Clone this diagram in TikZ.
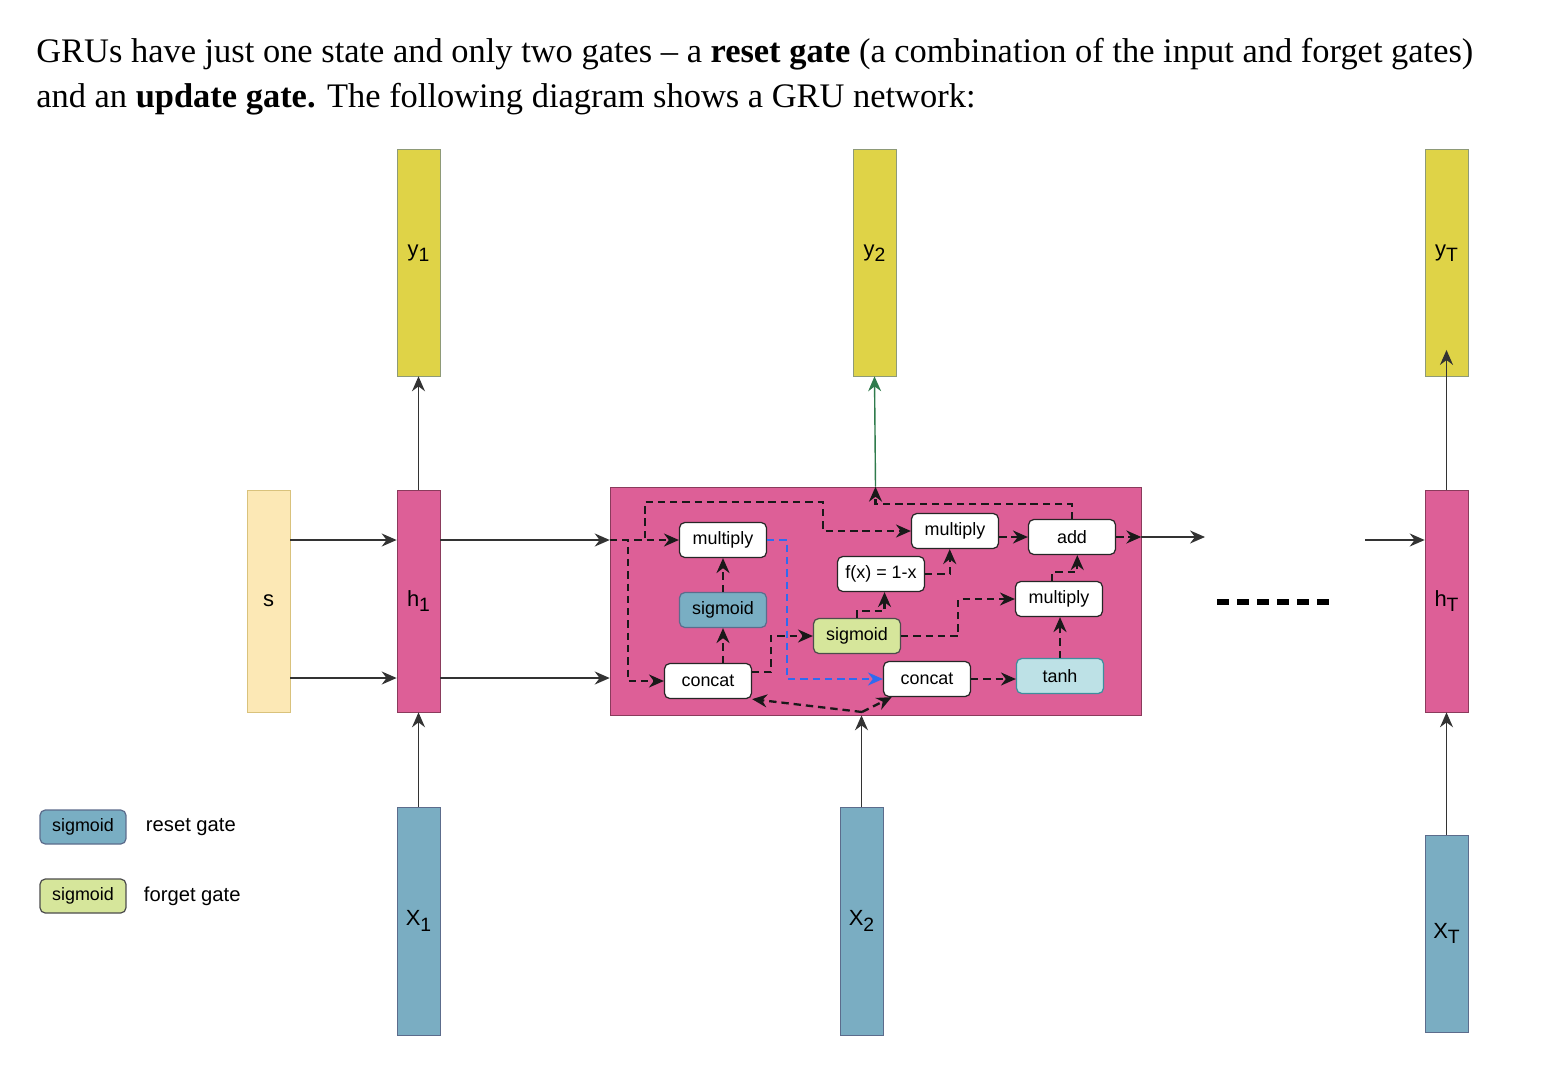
\documentclass[tikz,border=0pt]{standalone}
\usepackage{fontspec}
\setmainfont{Liberation Sans}
\newfontfamily\headfont[Ligatures=TeX]{Liberation Serif}
\usetikzlibrary{arrows.meta,positioning}

\definecolor{cellpink}{HTML}{DD5F97}
\definecolor{cellline}{HTML}{8A3B5C}
\definecolor{outyellow}{HTML}{DFD347}
\definecolor{outline}{HTML}{8E9A78}
\definecolor{inblue}{HTML}{7AADC2}
\definecolor{inline}{HTML}{5C6C8C}
\definecolor{stateyellow}{HTML}{FCE8B5}
\definecolor{stateline}{HTML}{D9C27C}
\definecolor{resetfill}{HTML}{79AEC3}
\definecolor{forgetfill}{HTML}{D6E69B}
\definecolor{tanhfill}{HTML}{BDE1E6}
\definecolor{tanhline}{HTML}{3E8E9E}
\definecolor{skipblue}{HTML}{2F6BF0}
\definecolor{outgreen}{HTML}{2F7B4C}
\definecolor{linegray}{HTML}{333333}

% lowered index, as in h1 or yT
\newcommand{\lowidx}[1]{\raisebox{-0.45ex}{\fontsize{11}{12}\selectfont #1}}

\tikzset{
    tallbox/.style={draw, rectangle, minimum width=0.86cm, minimum height=4.44cm,
        inner sep=0pt, font=\fontsize{12.5}{14}\selectfont},
    hbox/.style={tallbox, fill=cellpink, draw=cellline},
    ybox/.style={tallbox, fill=outyellow, draw=outline, minimum height=4.54cm},
    xbox/.style={tallbox, fill=inblue, draw=inline, minimum height=4.56cm},
    opbox/.style={draw=black!85, fill=white, rounded corners=3pt, line width=0.7pt,
        minimum width=1.74cm, minimum height=0.7cm, inner sep=0pt,
        font=\fontsize{10.2}{12}\selectfont},
    resetbox/.style={opbox, fill=resetfill, draw=inline},
    forgetbox/.style={opbox, fill=forgetfill, draw=black!70},
    tanhbox/.style={opbox, fill=tanhfill, draw=tanhline},
    arr/.style={draw=linegray, line width=0.8pt, -{Stealth[length=8.5pt,width=7.4pt]}},
    dsh/.style={draw=black!90, line width=1.3pt, dash pattern=on 4.2pt off 2.8pt,
        -{Stealth[length=8.5pt,width=7.4pt]}},
    legtext/.style={font=\fontsize{11.5}{13}\selectfont, inner sep=0pt}
}

\begin{document}
\begin{tikzpicture}[x=0.02cm,y=-0.02cm]

    \useasboundingbox (0,0) rectangle (1568,1082);

    % text above the diagram
    \node[anchor=base west, inner sep=0pt, font=\headfont\fontsize{19.6}{24}\selectfont]
        (lineA) at (36,62) {GRUs have just one state and only two gates – a \textbf{reset gate} (a combination of the input and forget gates)};
    \node[anchor=base west, inner sep=0pt, font=\headfont\fontsize{19.6}{24}\selectfont]
        (lineB) at (36,107) {and an \textbf{update gate.} The following diagram shows a GRU network:};

    % columns
    \node[tallbox, fill=stateyellow, draw=stateline] (s) at (268.5,601) {s};
    \node[hbox] (h1) at (418.5,601) {h\lowidx{1}};
    \node[ybox] (y1) at (418.5,262.5) {\raisebox{13.6pt}{y\lowidx{1}}};
    \node[xbox] (X1) at (418.5,921) {X\lowidx{1}};

    \node[ybox] (y2) at (874.5,262.5) {\raisebox{13.6pt}{y\lowidx{2}}};
    \node[xbox] (X2) at (861.5,921) {X\lowidx{2}};

    \node[ybox] (yT) at (1446.5,262.5) {\raisebox{13.6pt}{y\lowidx{T}}};
    \node[hbox] (hT) at (1446.5,601) {h\lowidx{T}};
    \node[xbox, minimum height=3.94cm] (XT) at (1446.5,933.5) {X\lowidx{T}};

    % the GRU cell
    \node[draw=cellline, fill=cellpink, minimum width=10.62cm, minimum height=4.56cm,
        inner sep=0pt] (cell) at (875.5,601) {};

    \node[opbox] (mulA) at (723,540) {multiply};
    \node[resetbox] (sigR) at (723,610) {sigmoid};
    \node[opbox] (catA) at (708,681) {concat};
    \node[opbox] (mulB) at (955,531) {multiply};
    \node[opbox] (fx) at (881,574) {f(x) = 1-x};
    \node[opbox] (add) at (1072,537) {add};
    \node[forgetbox] (sigF) at (857,636) {sigmoid};
    \node[opbox] (mulC) at (1059,599) {multiply};
    \node[opbox] (catB) at (927,679) {concat};
    \node[tanhbox] (tanh) at (1060,676) {tanh};

    \coordinate (rowA) at (0,540);
    \coordinate (rowB) at (0,678);
    \coordinate (inA) at (cell.west |- rowA);
    \coordinate (inB) at (cell.west |- rowB);
    \coordinate (cin) at (862,712);
    \coordinate (out) at (cell.east |- add.east);
    \coordinate (dotR) at (1205,537);
    \coordinate (dotL) at (1365,540);

    % outer connectors
    \draw[arr] (s.east |- rowA) -- (h1.west |- rowA);
    \draw[arr] (s.east |- rowB) -- (h1.west |- rowB);
    \draw[arr] (h1.east |- rowA) -- (inA);
    \draw[arr] (h1.east |- rowB) -- (inB);
    \draw[arr] (h1.north) -- (y1.south);
    \draw[arr] (X1.north) -- (h1.south);
    \draw[arr] (X2.north) -- (X2.north |- cell.south);
    \draw[arr, draw=outgreen] (cell.north) -- (y2.south);
    \draw[arr] (out) -- (dotR);
    \draw[arr] (dotL) -- (hT.west |- dotL);
    \draw[arr] (hT.north) -- ([yshift=15pt]yT.south);
    \draw[arr] (XT.north) -- (hT.south);

    \draw[line width=3.4pt, dash pattern=on 6.8pt off 4.6pt] (1217,602) -- (1329,602);

    % inside the cell
    \draw[dsh] (inA) -- (mulA.west);
    \draw[dsh] (inA) -- ++(35,0) |- (823,502) |- (mulB.west);
    \draw[dsh] (inA) -- ++(18,0) |- (catA.west);
    \draw[dsh] (sigR.south |- catA.north) -- (sigR.south);
    \draw[dsh] (sigR.north) -- (mulA.south);
    \draw[dsh] ([yshift=5pt]catA.east) -- ++(19,0) |- (sigF.west);
    \draw[dsh, draw=skipblue, -{Stealth[length=8.5pt,width=7.4pt,fill=skipblue]}]
        (mulA.east) -- ++(20,0) |- (catB.west);
    \draw[dsh] (cin) -- (catA.south east);
    \draw[dsh] (cin) -- ([xshift=5pt]catB.south west);
    \draw[dsh] (sigF.north) -- ++(0,-7) -| ([xshift=2pt]fx.south);
    \draw[dsh] (fx.east) -| ([xshift=-3pt]mulB.south);
    \draw[dsh] (sigF.east) -- ++(57,0) |- (mulC.west);
    \draw[dsh] (tanh.north) -- (tanh.north |- mulC.south);
    \draw[dsh] ([xshift=-4pt]mulC.north) -- ++(0,-9) -| ([xshift=3pt]add.south);
    \draw[dsh] (mulB.east |- add.west) -- (add.west);
    \draw[dsh] (catB.east) -- (catB.east -| tanh.west);
    \draw[dsh] (add.east) -- (out);
    \draw[dsh] (add.north) -- ++(0,-15) -| (cell.north);

    % legend
    \node[resetbox, minimum width=1.72cm, minimum height=0.68cm] (legR) at (83,827) {sigmoid};
    \node[forgetbox, minimum width=1.72cm, minimum height=0.68cm] (legF) at (83,896) {sigmoid};
    \node[legtext, right=0.38cm of legR] (legRtext) {reset gate};
    \node[legtext, right=0.34cm of legF] (legFtext) {forget gate};

\end{tikzpicture}
\end{document}
